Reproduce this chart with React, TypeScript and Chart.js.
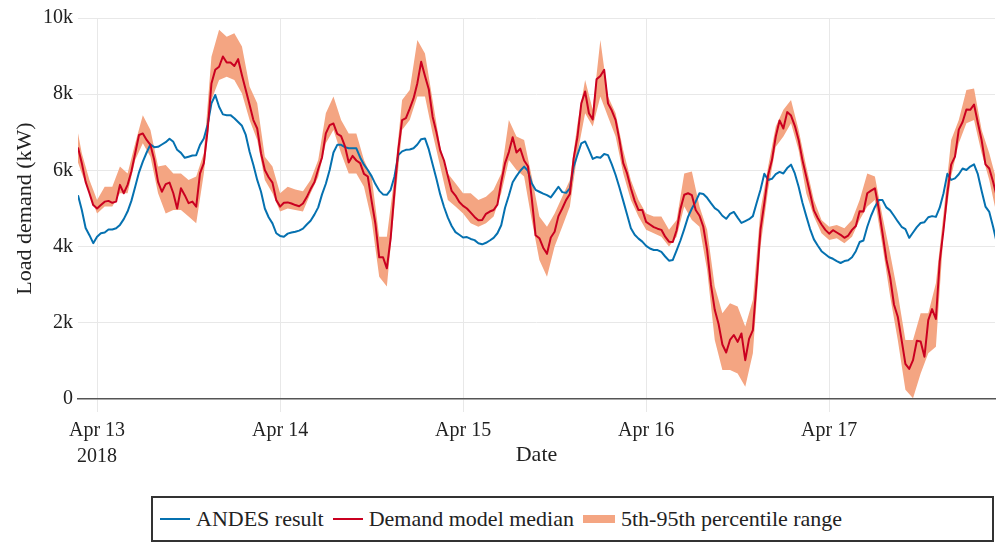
import React, { useEffect, useRef } from "react";
import { Chart, registerables } from "chart.js";

Chart.register(...registerables);

// Line series: half-hourly samples, first at 21:30 on Apr 12 2018
// (hour -2.5 relative to Apr 13 00:00)
const LINE_START_HOUR = -2.5;
const LINE_STEP_HOURS = 0.5;

// ANDES simulated load (kW)
const ANDES_KW = [
  5350, 4960, 4490, 4300, 4090,
  4260, 4350, 4370, 4450, 4450, 4480, 4570, 4720, 4920, 5200, 5570, 5950, 6230, 6470, 6680, 6610, 6620, 6680, 6740, 6830, 6750, 6540, 6460, 6330,
  6360, 6390, 6400, 6670, 6840, 7200, 7760, 7980, 7670, 7470, 7450, 7450, 7370, 7270, 7170, 6930, 6490, 6140, 5750, 5440, 5000, 4770, 4610, 4350,
  4280, 4260, 4340, 4370, 4390, 4420, 4470, 4580, 4680, 4840, 5030, 5370, 5650, 6010, 6470, 6670, 6670, 6610, 6580, 6580, 6580, 6340, 6150, 6010,
  5850, 5640, 5470, 5370, 5360, 5490, 5840, 6400, 6500, 6540, 6550, 6580, 6680, 6820, 6840, 6550, 6160, 5780, 5370, 5040, 4760, 4540, 4380, 4310,
  4240, 4250, 4200, 4170, 4090, 4060, 4100, 4160, 4230, 4350, 4560, 5020, 5340, 5690, 5850, 5990, 6100, 5990, 5660, 5490, 5440, 5390, 5350, 5290,
  5430, 5570, 5430, 5410, 5530, 6100, 6410, 6710, 6760, 6540, 6300, 6350, 6330, 6430, 6400, 6160, 5880, 5550, 5200, 4840, 4480, 4310, 4210, 4130,
  4020, 3950, 3910, 3910, 3860, 3740, 3630, 3650, 3900, 4160, 4460, 4780, 5000, 5180, 5400, 5380, 5280, 5140, 5010, 4940, 4810, 4730, 4860, 4910,
  4760, 4620, 4670, 4720, 4800, 5150, 5490, 5910, 5750, 5780, 5900, 5960, 5920, 6060, 6150, 5920, 5570, 5150, 4800, 4460, 4190, 4030, 3880, 3800,
  3720, 3680, 3620, 3570, 3620, 3640, 3720, 3880, 4120, 4160, 4520, 4810, 5040, 5220, 5220, 5030, 4950, 4810, 4660, 4520, 4460, 4230, 4370, 4510,
  4620, 4640, 4770, 4800, 4780, 5020, 5400, 5910, 5750, 5790, 5900, 6050, 6010, 6100, 6160, 5900, 5460, 5050, 4910, 4520, 4090,
];

// Demand model median (kW)
const MEDIAN_KW = [
  6600, 6190, 5700, 5400, 5090,
  5000, 5090, 5180, 5200, 5150, 5180, 5620, 5400, 5620, 5970, 6450, 6930, 6970, 6800, 6670, 6270, 5700, 5440, 5640, 5680, 5400, 5000, 5530, 5350,
  5140, 5180, 5050, 5920, 6190, 7060, 8280, 8640, 8720, 8990, 8830, 8830, 8740, 8920, 8500, 8110, 7720, 7320, 7100, 6450, 6010, 5820, 5680, 5220,
  5050, 5150, 5160, 5130, 5090, 5060, 5130, 5300, 5510, 5690, 6030, 6340, 6970, 7190, 7230, 6960, 6900, 6640, 6210, 6380, 6260, 6190, 5910, 5840,
  5200, 4600, 3720, 3720, 3430, 4220, 5440, 6540, 7320, 7370, 7620, 7890, 8290, 8850, 8480, 8130, 7410, 7000, 6520, 6260, 5850, 5460, 5340, 5170,
  5070, 5000, 4890, 4780, 4690, 4700, 4860, 4920, 4960, 5100, 5690, 6190, 6480, 6870, 6470, 6570, 6260, 6110, 5270, 4300, 4220, 3970, 3810, 4240,
  4390, 4800, 5000, 5220, 5380, 6320, 6890, 7760, 8070, 7500, 7340, 8390, 8480, 8640, 7760, 7570, 7320, 6800, 6190, 5920, 5530, 5200, 4960, 4960,
  4650, 4580, 4510, 4470, 4440, 4260, 4130, 4120, 4430, 4990, 5360, 5400, 5350, 4960, 4810, 4520, 3910, 3000, 2340, 1970, 1430, 1220, 1550, 1680,
  1500, 1720, 1020, 1580, 1810, 3090, 4450, 5140, 5880, 6270, 6890, 7310, 7100, 7530, 7440, 7170, 6800, 6270, 5840, 5400, 4950, 4750, 4580, 4440,
  4340, 4430, 4370, 4310, 4230, 4290, 4440, 4540, 4930, 4920, 5400, 5470, 5530, 5000, 4350, 3670, 3190, 2480, 2160, 1550, 920, 790, 1020, 1530,
  1510, 1110, 2070, 2360, 2100, 3610, 4440, 5400, 6150, 6360, 7070, 7270, 7600, 7590, 7730, 7250, 6790, 6160, 6050, 5700, 5300,
];

// Percentile band: hourly samples, first at 21:00 on Apr 12 2018
const BAND_START_HOUR = -3;
const BAND_STEP_HOURS = 1;

// 5th percentile (kW)
const P05_KW = [
  6500, 5920, 5400,
  4870, 5050, 5050, 5400, 5400, 6270, 6710, 6360, 5400, 4870, 4960, 4960, 4790, 4610, 5920, 7850, 8370, 8460, 8370, 8020, 7320, 6800, 5750, 5400,
  4920, 5000, 4960, 4920, 5400, 5830, 6710, 7060, 6450, 5920, 5920, 5570, 4700, 3210, 2950, 5050, 7060, 7320, 7940, 7940, 6970, 6100, 5220, 5050,
  4870, 4610, 4520, 4610, 4790, 5400, 6270, 6010, 5840, 4700, 3650, 3210, 4000, 4520, 5050, 6450, 7500, 7150, 7940, 7410, 6890, 5920, 5220, 4790,
  4440, 4350, 4260, 4000, 4260, 5050, 4700, 4520, 3380, 1550, 760, 760, 670, 320, 1200, 4000, 5490, 6620, 6890, 7240, 6530, 5400, 4790, 4350,
  4170, 4220, 4090, 4260, 4700, 5050, 5220, 4000, 2690, 1550, 240, 20, 670, 1200, 1370, 4350, 5840, 6710, 7240, 7320, 6450, 5750, 4800,
];

// 95th percentile (kW)
const P95_KW = [
  7500, 6450, 5750,
  5220, 5570, 5570, 6100, 5920, 6710, 7450, 7060, 6100, 6140, 5920, 5920, 5750, 5840, 6450, 8980, 9690, 9510, 9600, 9250, 8200, 7760, 6360, 6100,
  5400, 5570, 5500, 5450, 5750, 6270, 7500, 7940, 7320, 6970, 6970, 6270, 5840, 4260, 4260, 5840, 7850, 8110, 9420, 9070, 7850, 6620, 5920, 5660,
  5400, 5400, 5220, 5310, 5490, 5920, 7320, 6890, 6800, 5840, 4790, 4520, 4870, 5310, 5750, 7240, 8370, 7590, 9420, 7940, 7500, 6530, 5750, 5220,
  4870, 4790, 4790, 4440, 4700, 5920, 5970, 5050, 4440, 2950, 2250, 2510, 2430, 1900, 2600, 4960, 6100, 7150, 7590, 7850, 7060, 6100, 5220, 4700,
  4520, 4570, 4480, 4700, 5220, 5920, 5840, 4790, 3820, 2770, 1550, 1550, 2250, 2250, 3040, 4870, 6800, 7320, 8110, 8150, 7060, 6450, 5700,
];

// Day ticks on the time axis (hours since Apr 13 00:00)
const TICK_HOURS = [0, 24, 48, 72, 96];
const TICK_LABELS = ["Apr 13", "Apr 14", "Apr 15", "Apr 16", "Apr 17"];
const TICK_YEAR = "2018";
const X_MIN_HOUR = -2.5;
const X_MAX_HOUR = 117.75;

const BLUE = "#0571b0";
const RED = "#ca0020";
const BAND = "#f4a582";
const GRID = "#e8e8e8";
const TEXT = "#222";
const FONT = "'Liberation Serif', 'Times New Roman', serif";

const toPoints = (values: number[], start: number, step: number) =>
  values.map((v, i) => ({ x: start + i * step, y: v }));

export default function App() {
  const canvasRef = useRef<HTMLCanvasElement | null>(null);

  useEffect(() => {
    const canvas = canvasRef.current;
    if (!canvas) return;
    Chart.defaults.font.family = FONT;
    Chart.defaults.color = TEXT;

    const tickFont = { family: FONT, size: 20, lineHeight: 1.3 };
    const titleFont = { family: FONT, size: 22 };

    const chart = new Chart(canvas, {
      type: "line",
      data: {
        datasets: [
          {
            label: "Demand model median",
            data: toPoints(MEDIAN_KW, LINE_START_HOUR, LINE_STEP_HOURS),
            borderColor: RED,
            borderWidth: 2,
            borderJoinStyle: "round",
            pointRadius: 0,
            tension: 0,
            fill: false,
          },
          {
            label: "ANDES result",
            data: toPoints(ANDES_KW, LINE_START_HOUR, LINE_STEP_HOURS),
            borderColor: BLUE,
            borderWidth: 2,
            borderJoinStyle: "round",
            pointRadius: 0,
            tension: 0,
            fill: false,
          },
          {
            label: "95th percentile",
            data: toPoints(P95_KW, BAND_START_HOUR, BAND_STEP_HOURS),
            borderColor: "rgba(0,0,0,0)",
            borderWidth: 0,
            backgroundColor: BAND,
            pointRadius: 0,
            tension: 0,
            fill: "+1",
          },
          {
            label: "5th percentile",
            data: toPoints(P05_KW, BAND_START_HOUR, BAND_STEP_HOURS),
            borderColor: "rgba(0,0,0,0)",
            borderWidth: 0,
            pointRadius: 0,
            tension: 0,
            fill: false,
          },
        ],
      },
      options: {
        animation: false,
        responsive: false,
        events: [],
        font: { family: FONT },
        layout: { padding: { top: 18, right: 2, bottom: 70, left: 0 } },
        plugins: {
          legend: { display: false },
          tooltip: { enabled: false },
          filler: { drawTime: "beforeDatasetsDraw" },
        },
        scales: {
          x: {
            type: "linear",
            min: X_MIN_HOUR,
            max: X_MAX_HOUR,
            afterBuildTicks: (scale: any) => {
              scale.ticks = TICK_HOURS.map((v) => ({ value: v }));
            },
            afterFit: (scale: any) => {
              scale.height = 73;
            },
            ticks: {
              autoSkip: false,
              maxRotation: 0,
              padding: 6,
              font: tickFont,
              color: TEXT,
              callback: (value: any) => {
                const i = TICK_HOURS.indexOf(Number(value));
                if (i < 0) return "";
                return i === 0 ? [TICK_LABELS[i], TICK_YEAR] : TICK_LABELS[i];
              },
            },
            grid: {
              color: GRID,
              lineWidth: 1,
              drawTicks: true,
              tickLength: 13,
              tickColor: GRID,
            },
            border: { display: true, color: "#555", width: 1.5 },
            title: {
              display: true,
              text: "Date",
              font: titleFont,
              color: TEXT,
              padding: { top: 0, bottom: 4 },
            },
          },
          y: {
            min: 0,
            max: 10000,
            afterFit: (scale: any) => {
              scale.width = 78;
            },
            ticks: {
              stepSize: 2000,
              padding: 5,
              font: { family: FONT, size: 20 },
              color: TEXT,
              callback: (value: any) =>
                Number(value) === 0 ? "0" : `${Number(value) / 1000}k`,
            },
            grid: {
              color: (ctx: any) =>
                ctx.tick && ctx.tick.value === 0 ? "rgba(0,0,0,0)" : GRID,
              lineWidth: 1,
              drawTicks: false,
            },
            border: { display: false },
            title: {
              display: true,
              text: "Load demand (kW)",
              font: titleFont,
              color: TEXT,
              padding: { top: 12, bottom: 0 },
            },
          },
        },
      },
    } as any);

    return () => chart.destroy();
  }, []);

  const legendText: React.CSSProperties = { whiteSpace: "nowrap" };

  return (
    <div
      style={{
        position: "absolute",
        left: 0,
        top: 0,
        width: 997,
        height: 542,
        background: "#fff",
        overflow: "hidden",
      }}
    >
      <canvas ref={canvasRef} width={997} height={542} style={{ display: "block" }} />
      <div
        style={{
          position: "absolute",
          left: 151,
          top: 496,
          width: 843,
          height: 46,
          boxSizing: "border-box",
          border: "2px solid #333",
          display: "flex",
          alignItems: "center",
          paddingLeft: 7,
          fontFamily: FONT,
          fontSize: 22,
          color: TEXT,
          background: "#fff",
        }}
      >
        <span style={{ display: "inline-block", width: 30, height: 2, background: BLUE, marginRight: 6 }} />
        <span style={{ ...legendText, marginRight: 9 }}>ANDES result</span>
        <span style={{ display: "inline-block", width: 30, height: 2, background: RED, marginRight: 6 }} />
        <span style={{ ...legendText, marginRight: 9 }}>Demand model median</span>
        <span style={{ display: "inline-block", width: 32, height: 8, background: BAND, marginRight: 6 }} />
        <span style={legendText}>5th-95th percentile range</span>
      </div>
    </div>
  );
}
